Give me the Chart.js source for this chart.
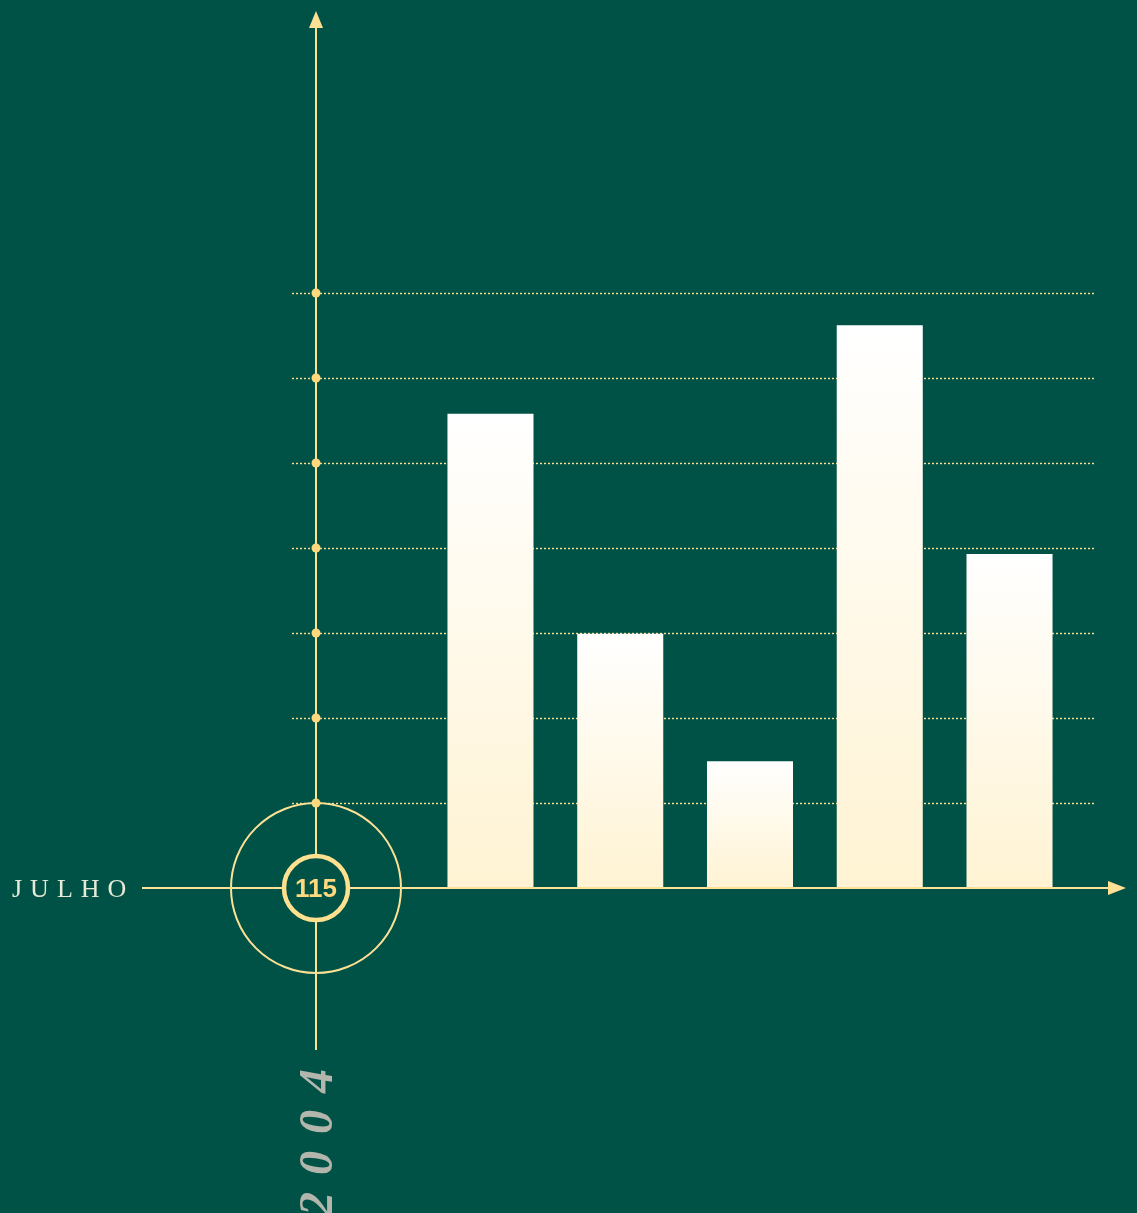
<!DOCTYPE html>
<html>
<head>
<meta charset="utf-8">
<script src="https://cdn.jsdelivr.net/npm/chart.js@4"></script>
<style>
  html, body { margin: 0; padding: 0; background: #005246; overflow: hidden; }
  #wrap { position: relative; width: 1137px; height: 1213px; }
  canvas { position: absolute; left: 0; top: 0; }
  .lbl { position: absolute; white-space: nowrap; line-height: 1; }
  #month { left: 12px; top: 876px; font-family: "Liberation Serif", serif; font-size: 26px; letter-spacing: 8px; color: #E6EAD6; }
  #year { left: 292px; top: 1216px; font-family: "Liberation Serif", serif; font-weight: bold; font-style: italic; font-size: 48px; letter-spacing: 17px; color: #B3B6AC; transform-origin: 0 0; transform: rotate(-90deg); }
  #badge { left: 316px; top: 888px; transform: translate(-50%, -50%); font-family: "Liberation Sans", Arial, sans-serif; font-weight: bold; font-size: 26px; color: #FFD97F; }
</style>
</head>
<body>
<div id="wrap">
  <canvas id="c" width="1137" height="1213"></canvas>
  <div class="lbl" id="month">JULHO</div>
  <div class="lbl" id="year">2004</div>
  <div class="lbl" id="badge">115</div>
</div>
<script>
const categories = ['1', '2', '3', '4', '5'];
const values = [5.58, 2.99, 1.49, 6.62, 3.93];
const gridTicks = [1, 2, 3, 4, 5, 6, 7];
const yMax = 7;

const BG = '#005246';
const AXIS = '#FFE196';
const DOT = '#FFD77C';
const AXIS_X = 316;

const deco = {
  id: 'deco',
  beforeDraw(chart) {
    const ctx = chart.ctx;
    const y = chart.scales.y;
    ctx.save();
    ctx.fillStyle = BG;
    ctx.fillRect(0, 0, chart.width, chart.height);
    ctx.strokeStyle = '#FFE08F';
    ctx.lineWidth = 1.4;
    ctx.setLineDash([2, 2]);
    gridTicks.forEach(v => {
      const py = Math.round(y.getPixelForValue(v)) + 0.5;
      ctx.beginPath();
      ctx.moveTo(292, py);
      ctx.lineTo(1096, py);
      ctx.stroke();
    });
    ctx.restore();
  },
  afterDatasetsDraw(chart) {
    const ctx = chart.ctx;
    const y = chart.scales.y;
    const y0 = y.getPixelForValue(0);
    ctx.save();
    ctx.strokeStyle = AXIS;
    ctx.fillStyle = AXIS;
    ctx.lineWidth = 2;
    // y axis
    ctx.beginPath();
    ctx.moveTo(AXIS_X, 1050);
    ctx.lineTo(AXIS_X, 26);
    ctx.stroke();
    ctx.beginPath();
    ctx.moveTo(AXIS_X, 11);
    ctx.lineTo(AXIS_X - 7, 28);
    ctx.lineTo(AXIS_X + 7, 28);
    ctx.closePath();
    ctx.fill();
    // x axis
    ctx.beginPath();
    ctx.moveTo(142, y0);
    ctx.lineTo(1110, y0);
    ctx.stroke();
    ctx.beginPath();
    ctx.moveTo(1126, y0);
    ctx.lineTo(1108, y0 - 7);
    ctx.lineTo(1108, y0 + 7);
    ctx.closePath();
    ctx.fill();
    // outer circle
    ctx.lineWidth = 2;
    ctx.beginPath();
    ctx.arc(AXIS_X, y0, 85, 0, Math.PI * 2);
    ctx.stroke();
    // inner ring
    ctx.fillStyle = BG;
    ctx.beginPath();
    ctx.arc(AXIS_X, y0, 32, 0, Math.PI * 2);
    ctx.fill();
    ctx.lineWidth = 4.5;
    ctx.strokeStyle = '#FFE08F';
    ctx.stroke();
    // tick dots
    ctx.fillStyle = DOT;
    gridTicks.forEach(v => {
      ctx.beginPath();
      ctx.arc(AXIS_X, y.getPixelForValue(v), 4.5, 0, Math.PI * 2);
      ctx.fill();
    });
    ctx.restore();
  }
};

function barFill(context) {
  const chart = context.chart;
  if (!chart.chartArea) return '#FFFFFF';
  const ys = chart.scales.y;
  const v = context.raw;
  const top = ys.getPixelForValue(v);
  const bottom = ys.getPixelForValue(0);
  const g = chart.ctx.createLinearGradient(0, top, 0, bottom);
  g.addColorStop(0, '#FFFFFF');
  g.addColorStop(1, '#FFF3D3');
  return g;
}

new Chart(document.getElementById('c'), {
  type: 'bar',
  data: {
    labels: categories,
    datasets: [{
      data: values,
      backgroundColor: barFill,
      borderWidth: 0,
      barPercentage: 0.663,
      categoryPercentage: 1
    }]
  },
  options: {
    responsive: false,
    animation: false,
    devicePixelRatio: 1,
    layout: { padding: { left: 425.6, right: 62.6, top: 293, bottom: 325 } },
    plugins: { legend: { display: false }, tooltip: { enabled: false } },
    scales: {
      x: { display: false, offset: true, grid: { display: false } },
      y: { display: false, min: 0, max: yMax, grid: { display: false } }
    }
  },
  plugins: [deco]
});
</script>
</body>
</html>
